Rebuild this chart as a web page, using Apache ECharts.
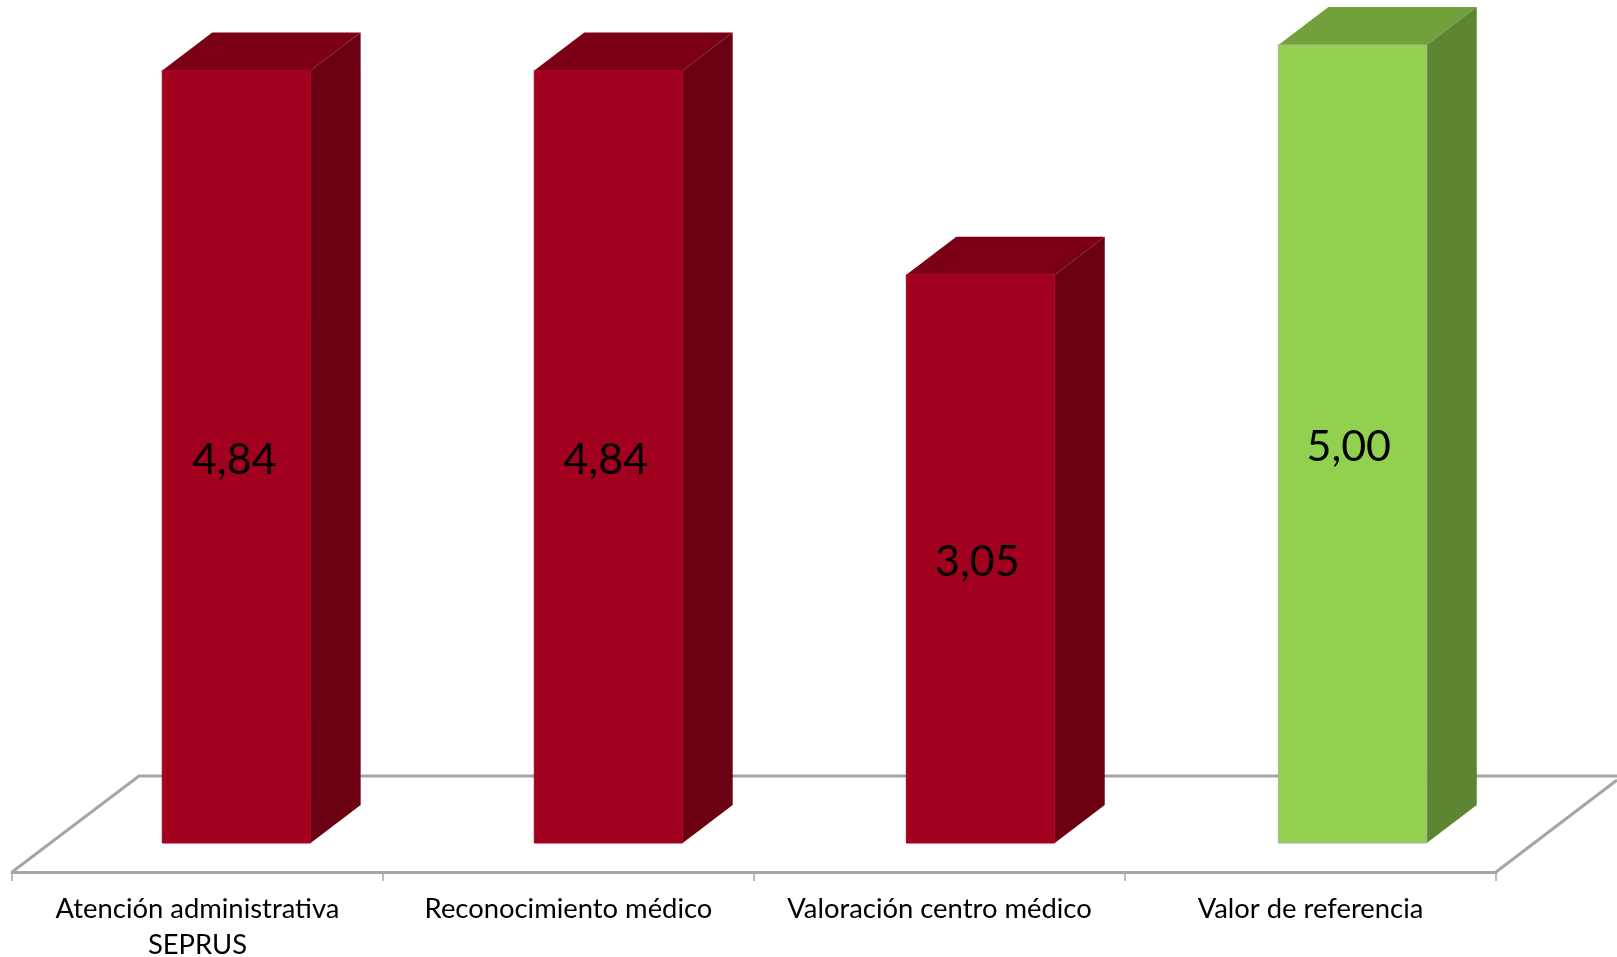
<!DOCTYPE html>
<html>
<head>
<meta charset="utf-8">
<style>html,body{margin:0;padding:0;background:#fff}#c{width:1617px;height:957px}</style>
<script src="https://cdn.jsdelivr.net/npm/echarts@6/dist/echarts.min.js"></script>
</head>
<body>
<div id="c"></div>
<script>
var categories = ['Atención administrativa\nSEPRUS', 'Reconocimiento médico', 'Valoración centro médico', 'Valor de referencia'];
// Heights as drawn in the picture; the third bar is drawn taller than its printed label.
var barHeights = [4.84, 4.84, 3.56, 5.00];
var valueLabels = ['4,84', '4,84', '3,05', '5,00'];
var frontColors = ['#A2001F', '#A2001F', '#A2001F', '#92D050'];
var topColors = ['#7C0015', '#7C0015', '#7C0015', '#71A03C'];
var sideColors = ['#6A0011', '#6A0011', '#6A0011', '#5E8531'];
var edgeColors = ['#A8001F', '#A8001F', '#A8001F', '#A6B59A'];

var DX = 50, DY = 38, FLOOR_DROP = 29;
var chart = echarts.init(document.getElementById('c'), null, {renderer: 'canvas'});

function renderBar(params, api) {
  var i = api.value(0);
  var base = api.coord([i, 0]);
  var top = api.coord([i, api.value(1)]);
  var band = api.size([1, 0])[0];
  var w = band * 0.4;
  // bars sit slightly wider apart than the axis bands, as in the 3D projection
  var x0 = base[0] + band * (0.105 + i * 0.0028) - w / 2;
  var x1 = x0 + w;
  var yB = base[1], yT = top[1];
  return {
    type: 'group',
    children: [
      {type: 'polygon', shape: {points: [[x0, yT], [x0 + DX, yT - DY], [x1 + DX, yT - DY], [x1, yT]]},
        style: {fill: topColors[i]}},
      {type: 'polygon', shape: {points: [[x1, yT], [x1 + DX, yT - DY], [x1 + DX, yB - DY], [x1, yB]]},
        style: {fill: sideColors[i]}},
      {type: 'rect', shape: {x: x0, y: yT, width: w, height: yB - yT},
        style: {fill: frontColors[i], stroke: edgeColors[i], lineWidth: 1}},
      {type: 'text', style: {text: valueLabels[i], x: x0 + w / 2 - 2 - i * 0.6, y: (yT + yB) / 2 + 3,
        align: 'center', verticalAlign: 'middle', fill: '#000', font: '43px Lato'}}
    ]
  };
}

function renderFloor(params, api) {
  var cs = params.coordSys;
  var yF = cs.y + cs.height + FLOOR_DROP;
  var xL = cs.x;
  var yBack = yF - 96;
  return {
    type: 'polyline',
    shape: {points: [[xL, yF], [xL + 127, yBack], [1617, yBack]]},
    style: {fill: null, stroke: '#A6A6A6', lineWidth: 3}
  };
}

function renderFloorRight(params, api) {
  var cs = params.coordSys;
  var yF = cs.y + cs.height + FLOOR_DROP;
  var xR = cs.x + cs.width;
  return {
    type: 'line',
    shape: {x1: xR, y1: yF, x2: xR + 121, y2: yF - 92},
    style: {stroke: '#A6A6A6', lineWidth: 3}
  };
}

chart.setOption({
  animation: false,
  backgroundColor: '#fff',
  grid: {left: 12, right: 121, top: 5, bottom: 114, outerBoundsMode: 'none'},
  xAxis: {
    type: 'category',
    data: categories,
    offset: FLOOR_DROP,
    axisLine: {show: true, onZero: false, lineStyle: {color: '#A6A6A6', width: 3}},
    axisTick: {show: true, length: 9, lineStyle: {color: '#A6A6A6', width: 1.5}},
    axisLabel: {interval: 0, margin: 19, color: '#000', fontFamily: 'Lato', fontSize: 27.4, lineHeight: 36},
    z: 1
  },
  yAxis: {type: 'value', min: 0, max: 5.25, show: false, splitLine: {show: false}},
  series: [
    {type: 'custom', coordinateSystem: 'cartesian2d', clip: false, z: 1, silent: true,
      data: [[0, 0]], renderItem: renderFloor},
    {type: 'custom', coordinateSystem: 'cartesian2d', clip: false, z: 1, silent: true,
      data: [[0, 0]], renderItem: renderFloorRight},
    {type: 'custom', coordinateSystem: 'cartesian2d', clip: false, z: 3, silent: true,
      encode: {x: 0, y: 1},
      data: barHeights.map(function (v, i) { return [i, v]; }),
      renderItem: renderBar}
  ]
});
</script>
</body>
</html>
